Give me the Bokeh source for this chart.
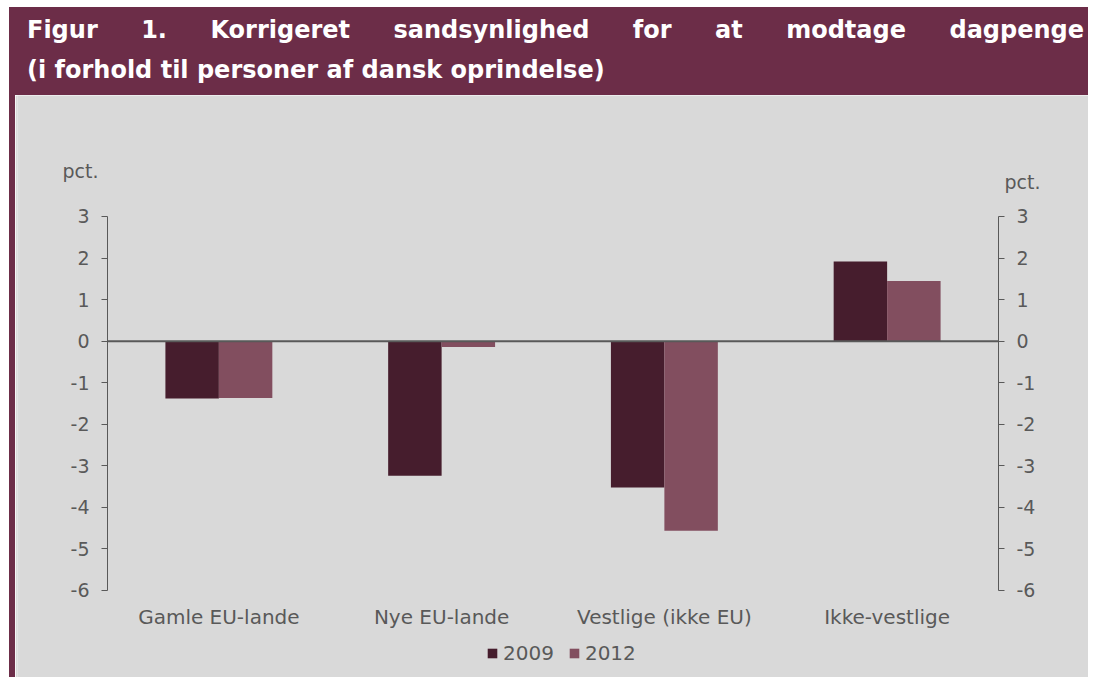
from bokeh.plotting import figure
from bokeh.models import (ColumnDataSource, FactorRange, Range1d, LinearAxis, CategoricalAxis,
                          FixedTicker, Label, Legend, LegendItem, Div, PrintfTickFormatter)
from bokeh.transform import dodge
from bokeh.layouts import column, row
from bokeh.embed import file_html
from bokeh.resources import INLINE

# ---- data ----
categories = ["Gamle EU-lande", "Nye EU-lande", "Vestlige (ikke EU)", "Ikke-vestlige"]
v2009 = [-1.38, -3.24, -3.52, 1.92]
v2012 = [-1.37, -0.14, -4.56, 1.45]
series_names = ["2009", "2012"]
y_ticks = [-6, -5, -4, -3, -2, -1, 0, 1, 2, 3]
y_min, y_max = -6, 3
unit_label = "pct."
title_line1 = "Figur 1. Korrigeret sandsynlighed for at modtage dagpenge"
title_line2 = "(i forhold til personer af dansk oprindelse)"

# ---- style ----
PURPLE = "#6C2D48"
GRAY_BG = "#D9D9D9"
TXT = "#595959"
C2009 = "#461D2D"
C2012 = "#824E5F"
FONT = "DejaVu Sans"

FIG_W, FIG_H = 1073, 582
HEAD_W, HEAD_H = 1079, 88
src = ColumnDataSource(dict(cat=categories, y2009=v2009, y2012=v2012))

# frame covers the canvas; axes sit at fixed locations inside it
p = figure(x_range=FactorRange(*categories, range_padding=0.404, range_padding_units="absolute"),
           y_range=Range1d(-8.0936, 5.9117),
           width=FIG_W, height=FIG_H, output_backend="svg", toolbar_location=None,
           title=None, margin=0, x_axis_location=None, y_axis_location=None,
           min_border_left=2, min_border_right=0, min_border_top=0, min_border_bottom=0,
           background_fill_color=GRAY_BG, border_fill_color=GRAY_BG, outline_line_color=None)

r1 = p.vbar(x=dodge("cat", -0.12, range=p.x_range), top="y2009", width=0.24,
            source=src, fill_color=C2009, line_color=None)
r2 = p.vbar(x=dodge("cat", 0.12, range=p.x_range), top="y2012", width=0.24,
            source=src, fill_color=C2012, line_color=None)

# zero line from the first to the last category edge
p.segment(x0=[0], x1=[len(categories)], y0=[0], y1=[0], line_color=TXT, line_width=2)

p.xgrid.visible = False
p.ygrid.visible = False

# category axis at y = -6
xa = CategoricalAxis(fixed_location=y_min)
xa.axis_line_color = None
xa.major_tick_line_color = None
xa.major_tick_out = 0
xa.major_tick_in = 0
xa.major_label_standoff = 15
xa.major_label_text_font = FONT
xa.major_label_text_font_size = "20px"
xa.major_label_text_color = TXT
p.add_layout(xa, "below")

def make_y(loc):
    ax = LinearAxis(fixed_location=loc, bounds=(y_min, y_max))
    ax.ticker = FixedTicker(ticks=y_ticks)
    ax.formatter = PrintfTickFormatter(format="%d")
    ax.axis_line_color = TXT
    ax.axis_line_width = 1
    ax.major_tick_line_color = TXT
    ax.major_tick_out = 6
    ax.major_tick_in = 0
    ax.minor_tick_line_color = None
    ax.major_label_standoff = 12
    ax.major_label_text_font = FONT
    ax.major_label_text_font_size = "19px"
    ax.major_label_text_color = TXT
    return ax

p.add_layout(make_y(0), "left")
p.add_layout(make_y(len(categories)), "right")

# unit labels
p.add_layout(Label(x=-0.202, y=4.105, text=unit_label, text_font=FONT, text_font_size="19px",
                   text_color=TXT, text_align="left", text_baseline="alphabetic"))
p.add_layout(Label(x=4.027, y=3.84, text=unit_label, text_font=FONT, text_font_size="19px",
                   text_color=TXT, text_align="left", text_baseline="alphabetic"))

legend = Legend(items=[LegendItem(label=series_names[0], renderers=[r1]),
                       LegendItem(label=series_names[1], renderers=[r2])],
                orientation="horizontal", location=(469, 12),
                glyph_width=12, glyph_height=12, label_standoff=5, spacing=14,
                padding=0, margin=0, background_fill_alpha=0, border_line_color=None,
                label_text_font=FONT, label_text_font_size="20px", label_text_color=TXT)
p.add_layout(legend)

header_html = (
    f'<div style="background:{PURPLE};color:#ffffff;font-family:\'DejaVu Sans\';font-weight:bold;'
    f'font-size:24px;width:{HEAD_W}px;height:{HEAD_H}px;box-sizing:border-box;padding:3px 4px 0 18px;'
    'line-height:40px;margin:0;">'
    f'<div style="text-align:justify;text-align-last:justify;white-space:normal;">{title_line1}</div>'
    f'<div style="text-align:left;">{title_line2}</div></div>'
)
header = Div(text=header_html, width=HEAD_W, height=HEAD_H, margin=0)
stripe = Div(text=f'<div style="width:6px;height:{FIG_H}px;background:{PURPLE};"></div>',
             width=6, height=FIG_H, margin=0, styles={"background-color": PURPLE})

body = column(header, row(stripe, p, spacing=0, margin=0), spacing=0, margin=0)
layout = column(Div(text="", width=1088, height=7, margin=0),
                row(Div(text="", width=9, height=HEAD_H + FIG_H, margin=0), body,
                    spacing=0, margin=0),
                spacing=0, margin=0)

with open("out.html", "w") as f:
    f.write(file_html(layout, INLINE))
